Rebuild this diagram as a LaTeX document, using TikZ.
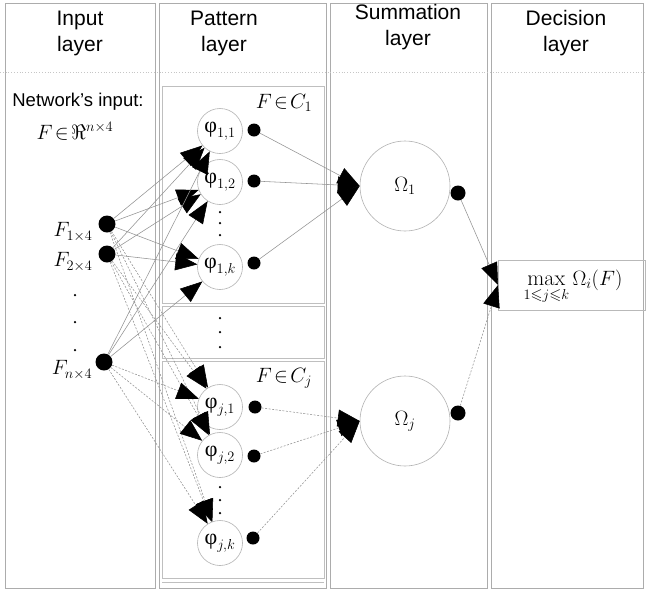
\documentclass[tikz,border=0pt]{standalone}
\usepackage{amsmath,amssymb}
\usepackage{fontspec}
\setsansfont{Liberation Sans}
\newfontfamily\grkfont{Liberation Serif}
\newcommand{\phig}{\mbox{\grkfont φ}}
\usetikzlibrary{arrows.meta}
\begin{document}
\begin{tikzpicture}[x=1pt,y=-1pt,
  panel/.style={draw=gray!65, line width=0.9pt},
  subbox/.style={draw=gray!50, line width=0.8pt},
  hdr/.style={font=\sffamily\fontsize{21}{26}\selectfont, align=center, inner sep=0pt},
  mlabel/.style={font=\fontsize{20}{24}\selectfont, inner sep=0pt},
  neuron/.style={circle, draw=gray!60, line width=0.6pt, minimum size=45pt, inner sep=0pt},
  sumn/.style={circle, draw=gray!60, line width=0.6pt, minimum size=90pt, inner sep=0pt},
  blob/.style={circle, fill=black, minimum size=#1, inner sep=0pt},
  blob/.default=13pt,
  vdot/.style={circle, fill=black, minimum size=2.5pt, inner sep=0pt},
  conn/.style={draw=gray!85, line width=0.55pt, -{Triangle[length=22pt,width=17pt,color=black]}},
  dconn/.style={conn, dash pattern=on 2pt off 1.5pt},
  ]
\useasboundingbox (0,0) rectangle (646,590);
\fill[white] (0,0) rectangle (646,590);

% panels
\draw[panel] (5,3) rectangle (155,588);
\draw[panel] (159,3) rectangle (326,588);
\draw[panel] (330,3) rectangle (487,588);
\draw[panel] (491,3) rectangle (643,588);
\draw[gray!45, dotted, line width=0.8pt] (0,72) -- (646,72);

% pattern sub boxes
\draw[subbox] (162,86) rectangle (324,303);
\draw[subbox] (162,306) rectangle (324,358);
\draw[subbox] (162,361) rectangle (324,578);
\draw[subbox] (162,582) -- (324,582);

% headers
\node[hdr] (h1) at (80,33) {Input\\layer};
\node[hdr] (h2) at (224,33) {Pattern\\layer};
\node[hdr] (h3) at (408,27) {Summation\\layer};
\node[hdr] (h4) at (566,33) {Decision\\layer};

% input layer
\node[font=\sffamily\fontsize{18.5}{22}\selectfont, inner sep=0pt] (netin) at (78,102) {Network's input:};
\node[mlabel] (fin) at (75,131) {$F\!\in\!\Re^{n\times 4}$};
\node[blob=17pt] (i1) at (107,224) {};
\node[blob=17pt] (i2) at (107,254) {};
\node[blob=17pt] (in) at (104,362) {};
\node[mlabel] (l1) at (73,232) {$F_{1\times 4}$};
\node[mlabel] (l2) at (73,262) {$F_{2\times 4}$};
\node[mlabel] (ln) at (72,370) {$F_{n\times 4}$};
\node[vdot] (v1) at (75,295) {};
\node[vdot] (v2) at (75,322) {};
\node[vdot] (v3) at (75,350) {};

% pattern layer
\node[mlabel] (c1) at (284,103) {$F\!\in\! C_1$};
\node[mlabel] (cj) at (284,378) {$F\!\in\! C_j$};
\node[neuron] (p11) at (220,131) {\fontsize{22}{24}\selectfont$\phig_{1,1}$};
\node[neuron] (p12) at (220,182) {\fontsize{22}{24}\selectfont$\phig_{1,2}$};
\node[neuron] (p1k) at (220,267) {\fontsize{22}{24}\selectfont$\phig_{1,k}$};
\node[neuron] (pj1) at (220,407) {\fontsize{22}{24}\selectfont$\phig_{j,1}$};
\node[neuron] (pj2) at (220,455) {\fontsize{22}{24}\selectfont$\phig_{j,2}$};
\node[neuron] (pjk) at (220,543) {\fontsize{22}{24}\selectfont$\phig_{j,k}$};
\node[blob] (o11) at (254,130) {};
\node[blob] (o12) at (254,181) {};
\node[blob] (o1k) at (254,263) {};
\node[blob] (oj1) at (255,407) {};
\node[blob] (oj2) at (254,456) {};
\node[blob] (ojk) at (253,538) {};
\node[vdot] (a1) at (220,212) {};
\node[vdot] (a2) at (220,223) {};
\node[vdot] (a3) at (220,235) {};
\node[vdot] (b1) at (220,318) {};
\node[vdot] (b2) at (220,332) {};
\node[vdot] (b3) at (220,347) {};
\node[vdot] (c1a) at (220,487) {};
\node[vdot] (c2a) at (220,500) {};
\node[vdot] (c3a) at (220,513) {};

% summation layer
\node[sumn] (s1) at (405,186) {\fontsize{22}{24}\selectfont$\Omega_1$};
\node[sumn] (sj) at (405,421) {\fontsize{22}{24}\selectfont$\Omega_j$};
\node[blob=15pt] (d1) at (458,193) {};
\node[blob=15pt] (dj) at (458,413) {};

% decision layer
\node[draw=gray!55, line width=0.8pt, minimum width=147pt, minimum height=50pt, inner sep=0pt, anchor=west] (dec) at (498,285) {};
\node[font=\fontsize{22}{26}\selectfont, inner sep=0pt] (dectext) at (573,287) {$\max\limits_{1\leqslant j\leqslant k}\Omega_i(F)$};

% connectors input -> pattern
\foreach \a in {i1,i2,in} {
  \foreach \b in {p11,p12,p1k} { \draw[conn] (\a) -- (\b); }
  \foreach \b in {pj1,pj2,pjk} { \draw[dconn] (\a) -- (\b); }
}
% pattern -> summation
\foreach \a in {o11,o12,o1k} { \draw[conn] (\a) -- (s1.west); }
\foreach \a in {oj1,oj2,ojk} { \draw[dconn] (\a) -- (sj.west); }
% summation -> decision
\draw[conn] (d1) -- (dec.west);
\draw[dconn] (dj) -- (dec.west);
\end{tikzpicture}
\end{document}
